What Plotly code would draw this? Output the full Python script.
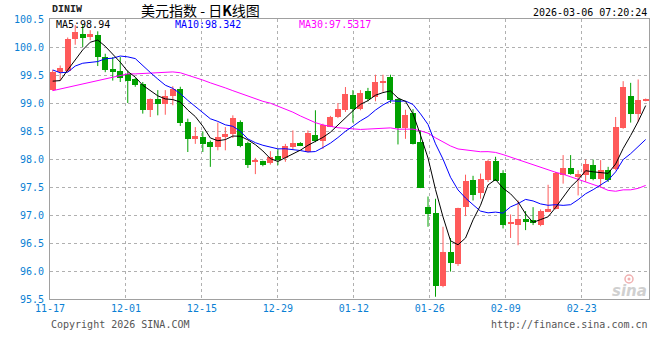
import plotly.graph_objects as go
import pandas as pd
import numpy as np

# ---------------- data ----------------
dates = pd.bdate_range("2025-11-17", periods=80).strftime("%m-%d").tolist()

opens = [99.23, 99.55, 99.565, 100.15, 100.24, 100.18, 100.21, 99.83, 99.61, 99.565,
         99.52, 99.42, 99.345, 98.87, 99.065, 98.99, 99.125, 99.245, 98.66, 98.36,
         98.39, 98.30, 98.21, 98.39, 98.45, 98.66, 98.29, 97.95, 97.96, 97.92,
         98.05, 98.01, 98.21, 98.29, 98.125, 98.42, 98.33, 98.58, 98.75, 98.87,
         99.14, 98.90, 99.21, 99.11, 99.36, 99.46, 99.065, 98.55, 98.83, 98.30,
         97.14, 97.04, 95.73, 96.34, 96.13, 97.14, 97.62, 97.39, 97.62, 97.96,
         97.75, 96.84, 96.83, 96.92, 96.91, 96.83, 97.07, 97.11, 97.72, 97.84,
         97.68, 97.72, 97.89, 97.65, 97.80, 97.83, 98.55, 99.125, 98.80, 99.04]
highs = [99.59, 99.67, 100.17, 100.39, 100.39, 100.30, 100.28, 99.88, 99.82, 99.82,
         99.58, 99.45, 99.375, 99.08, 99.23, 99.23, 99.30, 99.29, 98.72, 98.57,
         98.49, 98.33, 98.65, 98.57, 98.78, 98.69, 98.31, 98.02, 97.97, 98.14,
         98.18, 98.27, 98.51, 98.30, 98.51, 98.87, 98.63, 98.77, 99.00, 99.285,
         99.23, 99.23, 99.27, 99.505, 99.505, 99.505, 99.08, 98.88, 98.89, 98.51,
         97.33, 97.29, 96.79, 96.59, 97.13, 97.72, 97.70, 97.74, 97.99, 98.04,
         97.80, 97.01, 97.26, 97.07, 97.14, 97.10, 97.54, 97.77, 98.07, 98.07,
         97.80, 97.99, 97.99, 97.98, 97.86, 98.75, 99.39, 99.36, 99.42, 99.08]
lows = [99.22, 99.40, 99.55, 100.04, 100.00, 100.12, 99.66, 99.55, 99.40, 99.375,
        99.00, 99.29, 98.81, 98.75, 98.78, 98.79, 98.96, 98.59, 98.125, 98.27,
        98.125, 97.86, 98.155, 98.155, 98.375, 98.21, 97.84, 97.73, 97.87, 97.90,
        97.89, 97.95, 98.17, 98.23, 98.12, 98.30, 98.18, 98.57, 98.73, 98.84,
        98.65, 98.87, 99.03, 99.03, 99.20, 99.00, 98.26, 98.36, 98.26, 97.48,
        96.79, 95.54, 95.71, 95.99, 96.09, 96.98, 97.26, 97.29, 97.59, 97.61,
        96.76, 96.59, 96.46, 96.73, 96.82, 96.80, 97.05, 97.10, 97.56, 97.72,
        97.35, 97.59, 97.62, 97.49, 97.59, 97.80, 98.54, 98.65, 98.66, 99.03]
closes = [99.55, 99.625, 100.15, 100.26, 100.16, 100.23, 99.82, 99.595, 99.55, 99.45,
          99.40, 99.315, 98.87, 99.065, 98.99, 99.125, 99.255, 98.65, 98.35, 98.41,
          98.26, 98.21, 98.40, 98.45, 98.73, 98.24, 97.89, 97.97, 97.89, 98.04,
          97.99, 98.23, 98.29, 98.24, 98.47, 98.32, 98.61, 98.75, 98.89, 99.155,
          98.90, 99.185, 99.08, 99.375, 99.39, 99.05, 98.55, 98.78, 98.27, 97.48,
          97.01, 95.73, 96.34, 96.14, 97.125, 97.61, 97.35, 97.64, 97.96, 97.61,
          96.83, 96.85, 96.92, 96.89, 96.85, 97.08, 97.10, 97.75, 97.84, 97.73,
          97.73, 97.905, 97.65, 97.80, 97.63, 98.57, 99.29, 98.81, 99.05, 99.05]

# moving-average values at the start of the window (read from the drawn lines,
# where the window does not yet contain enough candles)
ma5_head = [99.39, 99.40, 99.59, 99.78]
ma10_head = [99.59, 99.54, 99.55, 99.66, 99.71, 99.73, 99.74, 99.79, 99.80]
ma30_head = [99.22, 99.25, 99.28, 99.31, 99.34, 99.37, 99.40, 99.43, 99.46, 99.50,
             99.52, 99.52, 99.525, 99.53, 99.535, 99.55, 99.555, 99.54, 99.50, 99.45,
             99.41, 99.36, 99.32, 99.27, 99.22, 99.17, 99.12, 99.07, 99.03]

y_ticks = [95.5, 96.0, 96.5, 97.0, 97.5, 98.0, 98.5, 99.0, 99.5, 100.0, 100.5]
tick_labels = ["11-17", "12-01", "12-15", "12-29", "01-12", "01-26", "02-09", "02-23"]

# ---------------- derived ----------------
x = np.arange(len(closes))
s = pd.Series(closes)


def moving(n, head):
    m = s.rolling(n).mean().to_numpy()
    m[:len(head)] = head
    return m


ma5 = moving(5, ma5_head)
ma10 = moving(10, ma10_head)
ma30 = moving(30, ma30_head)

RED = "#FF5A5A"
GREEN = "#00A000"
BLUE_TXT = "#0A7FD4"
MONO = "DejaVu Sans Mono"

o = np.array(opens)
c = np.array(closes)
h = np.array(highs)
lo = np.array(lows)
up = c >= o
MIN_BODY = 0.018  # one pixel, so that doji candles stay visible

fig = go.Figure()
# wicks
for mask, col in ((up, RED), (~up, GREEN)):
    wx, wy = [], []
    for i in np.where(mask)[0]:
        wx += [x[i], x[i], None]
        wy += [lo[i], h[i], None]
    fig.add_trace(go.Scatter(x=wx, y=wy, mode="lines", line=dict(color=col, width=1),
                             showlegend=False, hoverinfo="skip"))
# bodies
base = np.minimum(o, c)
height = np.maximum(np.abs(c - o), MIN_BODY)
fig.add_trace(go.Bar(x=x, y=height, base=base, width=0.8,
                     marker=dict(color=[RED if u else GREEN for u in up], line=dict(width=0)),
                     showlegend=False, hoverinfo="skip"))
fig.add_trace(go.Scatter(x=x, y=ma30, mode="lines", line=dict(color="#FF00FF", width=1),
                         showlegend=False, hoverinfo="skip"))
fig.add_trace(go.Scatter(x=x, y=ma10, mode="lines", line=dict(color="#0000FF", width=1),
                         showlegend=False, hoverinfo="skip"))
fig.add_trace(go.Scatter(x=x, y=ma5, mode="lines", line=dict(color="#000000", width=1),
                         showlegend=False, hoverinfo="skip"))

# plot geometry (pixels)
L, R, T, B = 50, 11, 19, 61
W, H = 660, 360
PW, PH = W - L - R, H - T - B

# gridline positions: one every ~10.12 candles starting at the left frame
step = 10.12
x0 = -0.36
tickvals = [x0 + step * k for k in range(len(tick_labels))]

fig.update_layout(
    width=W, height=H, margin=dict(l=L, r=R, t=T, b=B),
    paper_bgcolor="white", plot_bgcolor="white", bargap=0,
    xaxis=dict(range=[x0, x0 + PW / 7.506], tickvals=tickvals, ticktext=tick_labels,
               showgrid=True, gridcolor="#B0B0B0", griddash="dot", gridwidth=1,
               showline=True, linecolor="#A0A0A0", linewidth=1, mirror=True,
               zeroline=False, ticks="",
               tickfont=dict(family=MONO, size=10, color=BLUE_TXT), fixedrange=True),
    yaxis=dict(range=[95.5, 100.5], tickvals=y_ticks, ticktext=[f"{v:.1f}" for v in y_ticks],
               showgrid=True, gridcolor="#B0B0B0", griddash="dot", gridwidth=1,
               showline=True, linecolor="#A0A0A0", linewidth=1, mirror=True,
               zeroline=False, ticks="", ticklabelstandoff=3,
               tickfont=dict(family=MONO, size=10, color=BLUE_TXT), fixedrange=True),
)


def px(xp):
    return (xp - L) / PW


def py(yp):
    return (H - B - yp) / PH


ann = [
    dict(text="<b>DINIW</b>", x=px(50), y=py(10), xanchor="left",
         font=dict(family="Liberation Mono", size=10, color="#222222"), yanchor="middle"),
    dict(text="美元指数 - 日<b>K</b>线图", x=px(200), y=py(10), xanchor="center",
         font=dict(family="Noto Sans CJK SC", size=14, color="#000000"), yanchor="middle"),
    dict(text="2026-03-06 07:20:24", x=px(649), y=py(12), xanchor="right",
         font=dict(family=MONO, size=10, color="#000000"), yanchor="middle"),
    dict(text="MA5:98.94", x=px(54), y=py(24), xanchor="left",
         font=dict(family=MONO, size=10, color="#000000"), yanchor="middle"),
    dict(text="MA10:98.342", x=px(173), y=py(24), xanchor="left",
         font=dict(family=MONO, size=10, color="#0000FF"), yanchor="middle"),
    dict(text="MA30:97.5317", x=px(297), y=py(24), xanchor="left",
         font=dict(family=MONO, size=10, color="#FF00FF"), yanchor="middle"),
    dict(text="Copyright 2026 SINA.COM", x=px(49), y=py(324), xanchor="left",
         font=dict(family=MONO, size=10, color="#555555"), yanchor="middle"),
    dict(text="http://finance.sina.com.cn", x=px(650), y=py(324), xanchor="right",
         font=dict(family=MONO, size=10, color="#555555"), yanchor="middle"),
    dict(text="<i><b>sina</b></i>", x=px(649), y=py(291), xanchor="right",
         font=dict(family="DejaVu Sans", size=15, color="#D0D0D0"), yanchor="middle"),
]
for a in ann:
    a.update(xref="paper", yref="paper", showarrow=False)
fig.update_layout(annotations=ann)

# small eye logo of the watermark
fig.add_shape(type="circle", xref="paper", yref="paper",
              x0=px(625), x1=px(633), y0=py(283), y1=py(275),
              line=dict(color="#F0B0B0", width=1.5), fillcolor="rgba(0,0,0,0)")
fig.add_shape(type="circle", xref="paper", yref="paper",
              x0=px(627.5), x1=px(630.5), y0=py(280.5), y1=py(277.5),
              line=dict(width=0), fillcolor="#F0B0B0")

fig.write_html("out.html")
